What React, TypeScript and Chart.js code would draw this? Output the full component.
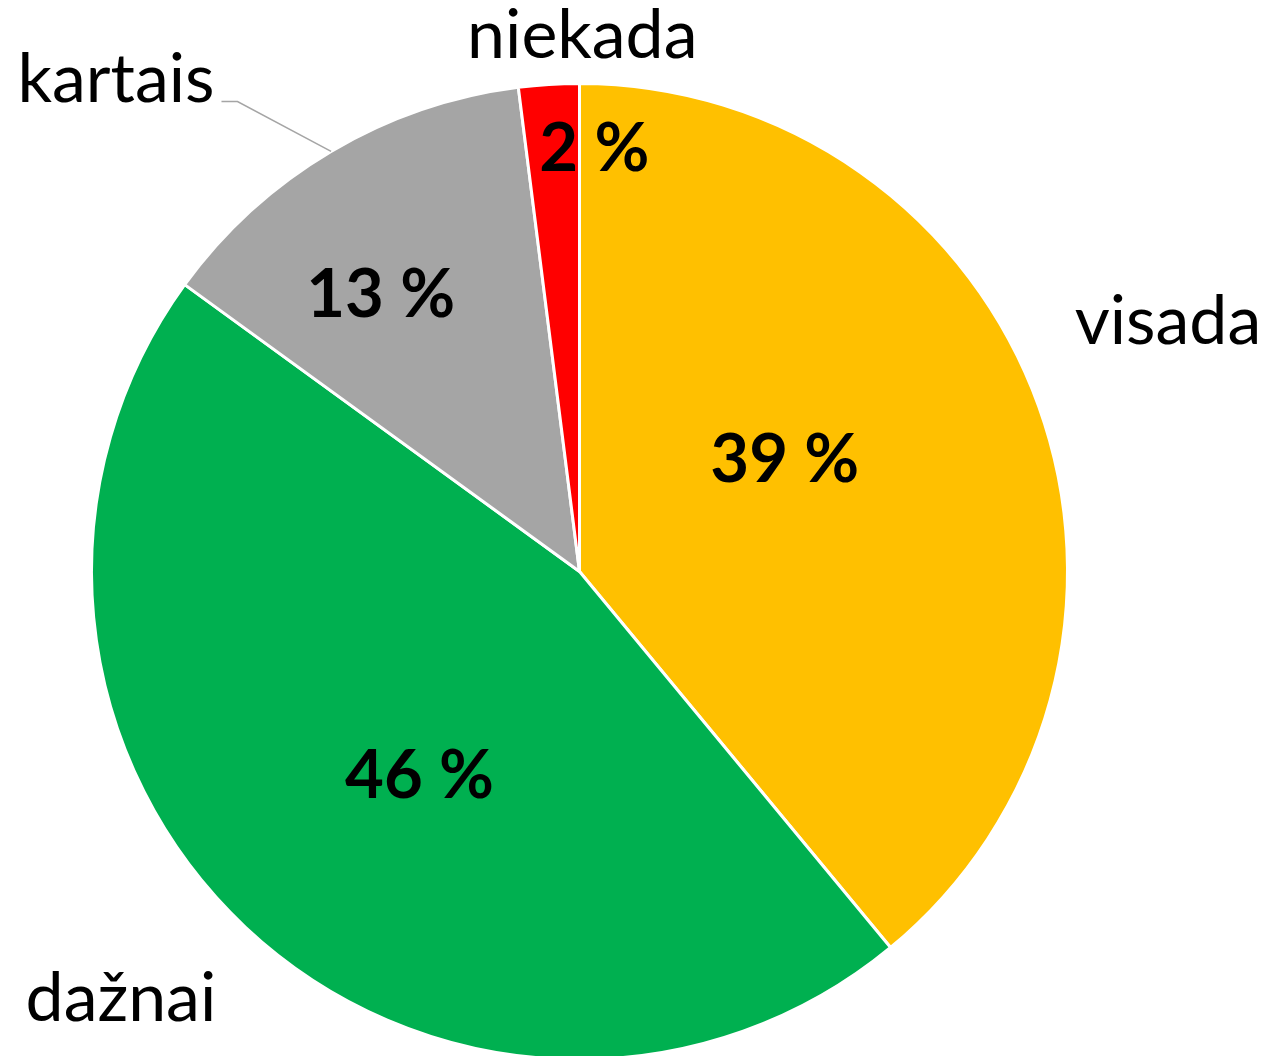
import React, { useEffect, useRef } from "react";
import { Chart, registerables } from "chart.js";

Chart.register(...registerables);

const categories = ["visada", "dažnai", "kartais", "niekada"];
const values = [39, 46, 13, 2];
const percentLabels = ["39 %", "46 %", "13 %", "2 %"];
const colors = ["#FFC000", "#00B050", "#A5A5A5", "#FF0000"];

// label placement relative to each slice (angle offset from slice middle in degrees, radius fraction)
const innerPlacement = [
  { dAngle: -9, r: 0.48 },
  { dAngle: -5, r: 0.53 },
  { dAngle: -5, r: 0.7 },
  { dAngle: 5.6, r: 0.87 },
];
const outerPlacement = [
  { angle: 67, r: 1.31 },
  { angle: 227, r: 1.285 },
  { angle: 316.7, r: 1.385 },
  { angle: 0.3, r: 1.097 },
];

const labelPlugin = {
  id: "pieLabels",
  afterDatasetsDraw(chart: any) {
    const meta = chart.getDatasetMeta(0);
    const ctx = chart.ctx;
    ctx.save();
    meta.data.forEach((arc: any, i: number) => {
      const { x, y, startAngle, endAngle, outerRadius } = arc.getProps(
        ["x", "y", "startAngle", "endAngle", "outerRadius"],
        true
      );
      const mid = (startAngle + endAngle) / 2;
      const ip = innerPlacement[i];
      const a = mid + (ip.dAngle * Math.PI) / 180;
      const px = x + Math.cos(a) * outerRadius * ip.r;
      const py = y + Math.sin(a) * outerRadius * ip.r;
      ctx.fillStyle = "#000";
      ctx.font = "bold 67px Lato";
      ctx.textAlign = "center";
      ctx.textBaseline = "middle";
      ctx.fillText(percentLabels[i], px, py + 2);

      const op = outerPlacement[i];
      const oa = ((op.angle - 90) * Math.PI) / 180;
      const ox = x + Math.cos(oa) * outerRadius * op.r;
      const oy = y + Math.sin(oa) * outerRadius * op.r;
      ctx.font = "68px Lato";
      ctx.fillText(categories[i], ox, oy);

      if (categories[i] === "kartais") {
        const w = ctx.measureText(categories[i]).width;
        const ex = x + Math.cos(mid) * outerRadius;
        const ey = y + Math.sin(mid) * outerRadius;
        const lx = ox + w / 2 + 7;
        const ly = oy + 22;
        ctx.strokeStyle = "#A5A5A5";
        ctx.lineWidth = 1.5;
        ctx.beginPath();
        ctx.moveTo(lx, ly);
        ctx.lineTo(lx + 16, ly);
        ctx.lineTo(ex, ey);
        ctx.stroke();
      }
    });
    ctx.restore();
  },
};

export default function App() {
  const ref = useRef<HTMLCanvasElement | null>(null);
  useEffect(() => {
    if (!ref.current) return;
    const chart = new Chart(ref.current, {
      type: "pie",
      data: {
        labels: categories,
        datasets: [
          {
            data: values,
            backgroundColor: colors,
            borderColor: "#FFFFFF",
            borderWidth: 3,
          },
        ],
      },
      options: {
        responsive: false,
        animation: false,
        layout: { padding: { top: 82, bottom: 9, left: 90, right: 199 } },
        plugins: {
          legend: { display: false },
          tooltip: { enabled: false },
        },
      },
      plugins: [labelPlugin],
    });
    return () => chart.destroy();
  }, []);
  return (
    <div
      style={{
        position: "fixed",
        left: 0,
        top: 0,
        width: 1268,
        height: 1056,
        overflow: "hidden",
        background: "#fff",
      }}
    >
      <canvas ref={ref} width={1268} height={1070} style={{ width: 1268, height: 1070, display: "block" }} />
    </div>
  );
}
